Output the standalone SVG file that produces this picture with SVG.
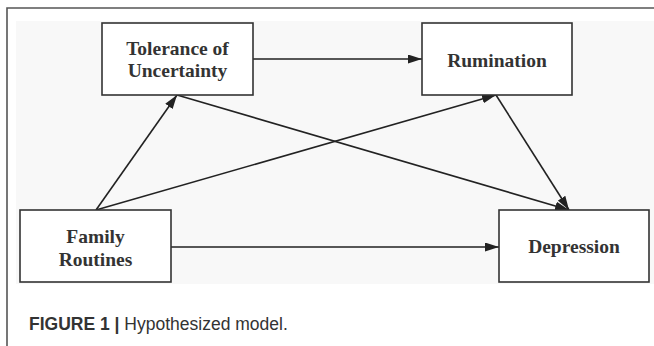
<svg xmlns="http://www.w3.org/2000/svg" width="654" height="346" viewBox="0 0 654 346">
<defs>
<style>
.node rect{fill:#fff;stroke:#333;stroke-width:1.6}
.node text{font-family:"Liberation Serif","Times New Roman",serif;font-weight:bold;font-size:19.5px;fill:#333;text-anchor:middle}
.edge{stroke:#222;stroke-width:1.6;fill:none;marker-end:url(#ah)}
.cap{font-family:"Liberation Sans",Arial,sans-serif;font-size:17.5px;fill:#333}
</style>
<marker id="ah" viewBox="0 0 14 9" refX="14" refY="4.5" markerWidth="14" markerHeight="9" markerUnits="userSpaceOnUse" orient="auto">
<path d="M0,0 L14,4.5 L0,9 Z" fill="#222"/>
</marker>
</defs>
<rect x="0" y="0" width="654" height="346" fill="#fff"/>
<rect x="16" y="21" width="638" height="263" fill="#f8f8f8"/>
<path d="M7,346 V8 H654" fill="none" stroke="#555" stroke-width="1.6"/>
<g id="connectors">
<line class="edge" x1="253" y1="59" x2="422" y2="59"/>
<line class="edge" x1="96" y1="210" x2="177" y2="95"/>
<line class="edge" x1="96" y1="210" x2="496" y2="95"/>
<line class="edge" x1="177" y1="95" x2="569" y2="210"/>
<line class="edge" x1="496" y1="95" x2="569" y2="210"/>
<line class="edge" x1="171" y1="247" x2="499" y2="247"/>
</g>
<g id="tolerance" class="node">
<rect x="102" y="23" width="151" height="72"/>
<text x="177.5" y="55">Tolerance of</text>
<text x="177.5" y="77">Uncertainty</text>
</g>
<g id="rumination" class="node">
<rect x="422" y="23" width="150" height="72"/>
<text x="497" y="66.5">Rumination</text>
</g>
<g id="family" class="node">
<rect x="20" y="210" width="151" height="72"/>
<text x="95.5" y="243">Family</text>
<text x="95.5" y="266">Routines</text>
</g>
<g id="depression" class="node">
<rect x="499" y="210" width="150" height="72"/>
<text x="574" y="253">Depression</text>
</g>
<text class="cap" x="29" y="330"><tspan font-weight="bold">FIGURE 1 |</tspan> Hypothesized model.</text>
</svg>
